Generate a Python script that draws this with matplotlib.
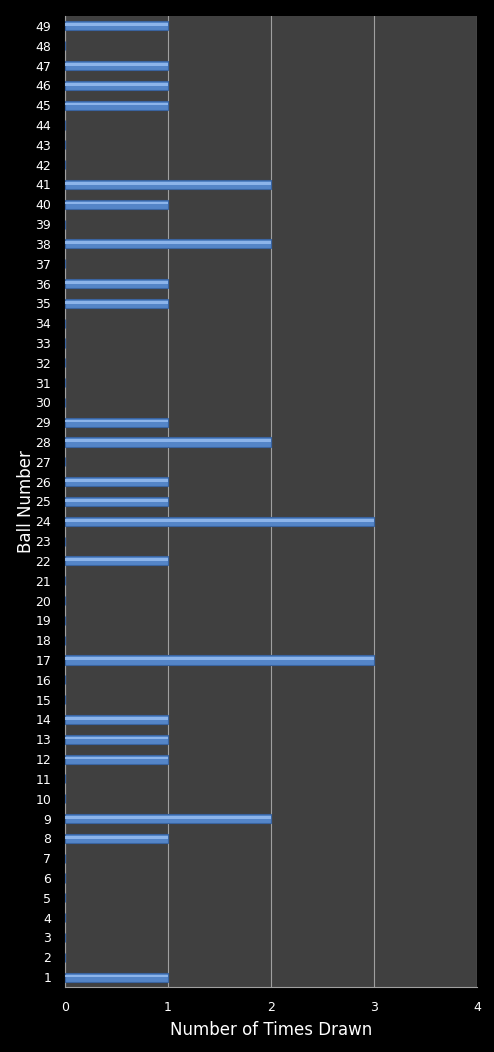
import matplotlib
matplotlib.use("Agg")
import matplotlib.pyplot as plt

ball_numbers = list(range(1, 50))
drawn = {1: 1, 8: 1, 9: 2, 12: 1, 13: 1, 14: 1, 17: 3, 22: 1, 24: 3, 25: 1,
         26: 1, 28: 2, 29: 1, 35: 1, 36: 1, 38: 2, 40: 1, 41: 2, 45: 1,
         46: 1, 47: 1, 49: 1}
times_drawn = [drawn.get(n, 0) for n in ball_numbers]

fig = plt.figure(figsize=(4.94, 10.52), dpi=100, facecolor="black")
ax = fig.add_axes([0.1316, 0.0618, 0.834, 0.923])
ax.set_facecolor("#404040")

# main bar plus a lighter stripe for the bevelled look
ax.barh(ball_numbers, times_drawn, height=0.46, color="#5485c8",
        edgecolor="#3a64a0", linewidth=0.8, zorder=3)
ax.barh([n + 0.06 for n in ball_numbers], times_drawn, height=0.14,
        color="#8cb4ea", linewidth=0, zorder=4)

ax.set_xlim(0, 4)
ax.set_ylim(0.5, 49.5)
ax.set_xticks([0, 1, 2, 3, 4])
ax.set_yticks(ball_numbers)
ax.xaxis.grid(True, color="#a0a0a0", linewidth=0.8, zorder=1)
ax.set_axisbelow(True)

for side in ["top", "right"]:
    ax.spines[side].set_visible(False)
for side in ["left", "bottom"]:
    ax.spines[side].set_color("#a0a0a0")
    ax.spines[side].set_linewidth(0.8)

ax.tick_params(colors="white", labelsize=9, length=0)
ax.tick_params(axis="x", pad=10)
ax.tick_params(axis="y", pad=10)
ax.set_xlabel("Number of Times Drawn", color="white", fontsize=12, labelpad=5)
ax.set_ylabel("Ball Number", color="white", fontsize=12, labelpad=0)

fig.savefig("out.png", dpi=100, facecolor="black")
